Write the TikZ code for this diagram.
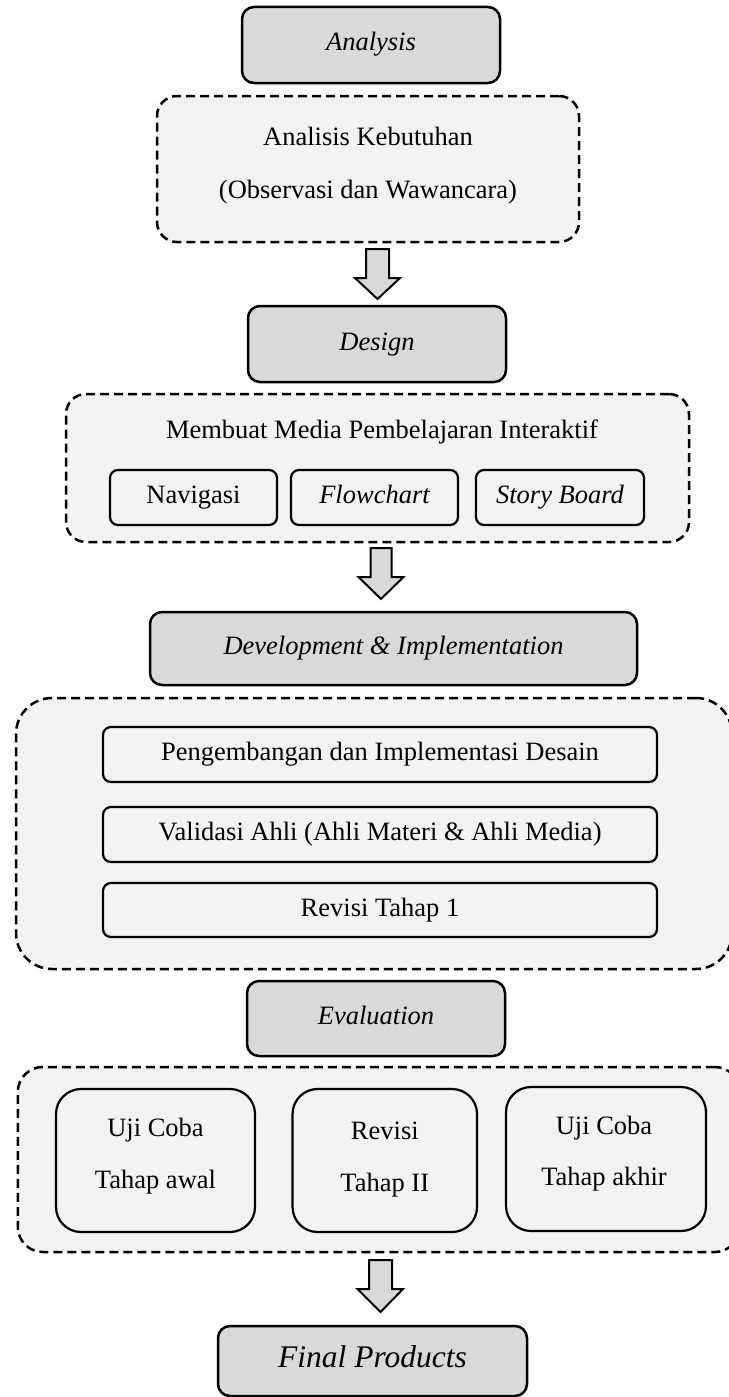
\documentclass[tikz,border=0pt]{standalone}
\usepackage{fontspec}
\setmainfont{Liberation Serif}
\definecolor{hdrgray}{HTML}{D9D9D9}
\definecolor{grpgray}{HTML}{F2F2F2}
\tikzset{
  txt/.style={font=\fontsize{26.5}{32}\selectfont, text height=18pt, text depth=6pt, inner sep=0pt},
  hdr/.style={draw, line width=2.5pt, fill=hdrgray, rounded corners=12pt, inner sep=0pt, txt},
  grp/.style={draw, line width=2.5pt, dash pattern=on 9pt off 5pt, fill=grpgray, rounded corners=#1, inner sep=0pt},
  grp/.default=20pt,
  subbox/.style={draw, line width=2.2pt, fill=grpgray, rounded corners=#1, inner sep=0pt, txt},
  subbox/.default=8pt,
  blockarr/.style={draw, line width=2pt, fill=hdrgray, line join=miter},
}
\begin{document}
\begin{tikzpicture}[x=1pt,y=-1pt]
\useasboundingbox (0,0) rectangle (728,1397);

% Analysis
\node[hdr, minimum width=258pt, minimum height=76pt] (analysis) at (371,45) {\itshape Analysis};
\node[grp=20pt, minimum width=422pt, minimum height=146pt] (g1) at (368,169) {};
\node[txt] (g1a) at (368,139) {Analisis Kebutuhan};
\node[txt] (g1b) at (368,192) {(Observasi dan Wawancara)};
\draw[blockarr] (366,249) -- (389,249) -- (389,278) -- (400,278) -- (377.5,299) -- (355,278) -- (366,278) -- cycle;

% Design
\node[hdr, minimum width=258pt, minimum height=76pt] (design) at (377,344) {\itshape Design};
\node[grp=20pt, minimum width=623pt, minimum height=148pt] (g2) at (377.5,468) {};
\node[txt] (g2a) at (382,432) {Membuat Media Pembelajaran Interaktif};
\node[subbox, minimum width=167pt, minimum height=55pt] (nav) at (193.5,497.5) {Navigasi};
\node[subbox, minimum width=167pt, minimum height=55pt] (flow) at (374.5,497.5) {\itshape Flowchart};
\node[subbox, minimum width=168pt, minimum height=55pt] (story) at (560,497.5) {\itshape Story Board};
\draw[blockarr] (370.5,548) -- (391.5,548) -- (391.5,577) -- (403.5,577) -- (381,599) -- (358.5,577) -- (370.5,577) -- cycle;

% Development & Implementation
\node[hdr, minimum width=487pt, minimum height=73pt] (dev) at (393.5,648.5) {\itshape Development \& Implementation};
\node[grp=36pt, minimum width=716pt, minimum height=271pt] (g3) at (374,833.5) {};
\node[subbox, minimum width=554pt, minimum height=55pt] (d1) at (380,754.5) {Pengembangan dan Implementasi Desain};
\node[subbox, minimum width=554pt, minimum height=55pt] (d2) at (380,834.5) {Validasi Ahli (Ahli Materi \& Ahli Media)};
\node[subbox, minimum width=554pt, minimum height=54pt] (d3) at (380,910) {Revisi Tahap 1};

% Evaluation
\node[hdr, minimum width=258pt, minimum height=75pt] (eval) at (376,1018.5) {\itshape Evaluation};
\node[grp=25pt, minimum width=722pt, minimum height=185pt] (g4) at (378.8,1159.5) {};
\node[subbox=25pt, minimum width=199pt, minimum height=143pt] (e1) at (155.5,1160.5) {};
\node[txt] (e1a) at (155.5,1130) {Uji Coba};
\node[txt] (e1b) at (155.5,1182) {Tahap awal};
\node[subbox=25pt, minimum width=184.5pt, minimum height=143pt] (e2) at (384.8,1160.5) {};
\node[txt] (e2a) at (384.8,1133) {Revisi};
\node[txt] (e2b) at (384.8,1185) {Tahap II};
\node[subbox=25pt, minimum width=200pt, minimum height=144pt] (e3) at (606,1159) {};
\node[txt] (e3a) at (604,1128) {Uji Coba};
\node[txt] (e3b) at (604,1179) {Tahap akhir};
\draw[blockarr] (369,1260) -- (392,1260) -- (392,1289) -- (403,1289) -- (380.5,1312) -- (357.5,1289) -- (369,1289) -- cycle;

% Final Products
\node[hdr, minimum width=309pt, minimum height=70pt, font=\fontsize{31.5}{36}\selectfont] (final) at (372.5,1361) {\itshape Final Products};
\end{tikzpicture}
\end{document}
